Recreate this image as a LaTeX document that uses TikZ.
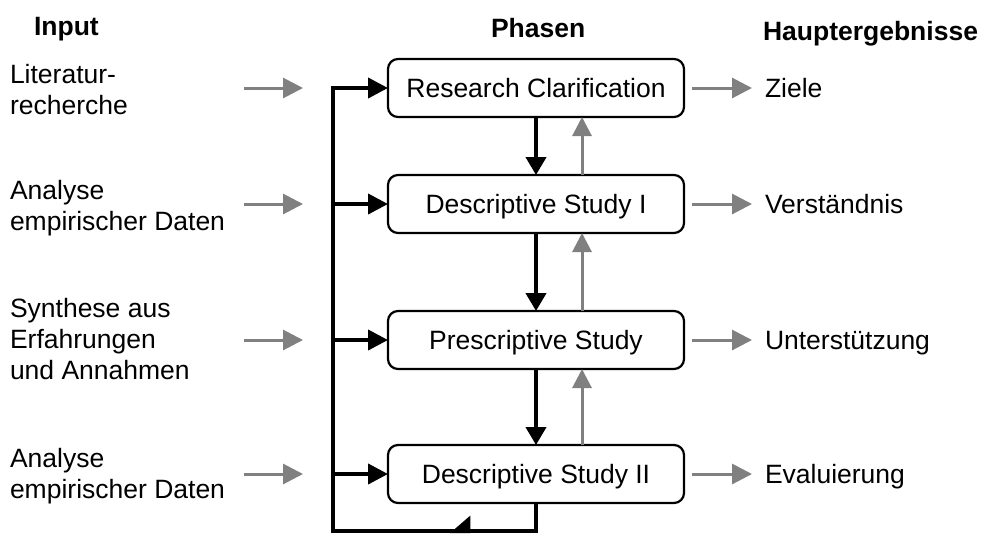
\documentclass[tikz,border=0pt]{standalone}
\usepackage{fontspec}
\setmainfont{Liberation Sans}
\usetikzlibrary{arrows.meta,decorations.markings}
\definecolor{flowgray}{RGB}{128,128,128}
% fixed height for the first line of a multi-line label
\newcommand{\firstline}{\rule{0pt}{22pt}}

\begin{document}
\begin{tikzpicture}[x=1pt,y=-1pt,
  every node/.style={inner sep=0pt, outer sep=0pt},
  bodyfont/.style={font=\fontsize{26.5}{31}\selectfont},
  head/.style={font=\fontsize{26.5}{31}\selectfont\bfseries, anchor=base west},
  phase/.style={draw, line width=2.2pt, rounded corners=10pt,
    minimum width=296pt, minimum height=58pt, bodyfont,
    text height=19pt, text depth=0pt},
  inputtext/.style={bodyfont, align=left, anchor=north west},
  resulttext/.style={bodyfont, anchor=west, text height=19pt, text depth=0pt},
  bus/.style={line width=4pt, black},
  bustip/.style={-{Triangle[length=20pt,width=20pt]}},
  downflow/.style={line width=4pt, black, -{Triangle[length=18pt,width=20pt]}},
  upflow/.style={line width=3pt, flowgray, -{Triangle[length=19pt,width=19pt]}},
  grayflow/.style={line width=3pt, flowgray, -{Triangle[length=20pt,width=20pt]}},
]
\useasboundingbox (0,0) rectangle (987,536);

% column headers
\node[head] (hIn)  at (34,35)  {Input};
\node[head] (hPh)  at (491,37) {Phasen};
\node[head] (hRes) at (763,40) {Hauptergebnisse};

% phases
\node[phase] (RC)  at (536,88)  {Research Clarification};
\node[phase] (DS1) at (536,204) {Descriptive Study I};
\node[phase] (PS)  at (536,340) {Prescriptive Study};
\node[phase] (DS2) at (536,474) {Descriptive Study II};

% inputs
\node[inputtext] (in1) at (10,61)  {\firstline Literatur-\\recherche};
\node[inputtext] (in2) at (10,177) {\firstline Analyse\\empirischer Daten};
\node[inputtext] (in3) at (10,295) {\firstline Synthese aus\\Erfahrungen\\und Annahmen};
\node[inputtext] (in4) at (10,445) {\firstline Analyse\\empirischer Daten};

% main results
\node[resulttext] (r1) at (765,88)  {Ziele};
\node[resulttext] (r2) at (765,204) {Verständnis};
\node[resulttext] (r3) at (765,340) {Unterstützung};
\node[resulttext] (r4) at (765,474) {Evaluierung};

% input arrows
\foreach \n/\y in {1/88,2/204,3/340,4/474}{
  \coordinate (ia\n) at (244,\y);
  \coordinate (ib\n) at (303,\y);
  \draw[grayflow] (ia\n) -- (ib\n);
}

% result arrows
\foreach \b/\r in {RC/r1,DS1/r2,PS/r3,DS2/r4}{
  \draw[grayflow] ([xshift=8pt]\b.east) -- ([xshift=-13pt]\r.west);
}

% forward and backward flow between phases
\foreach \a/\b in {RC/DS1,DS1/PS,PS/DS2}{
  \draw[downflow] (\a.south) -- (\b.north);
  \draw[upflow] ([xshift=46pt]\b.north) -- ([xshift=46pt]\a.south);
}

% iteration loop with feed-in branches
\coordinate (buscorner) at (333,531);
\draw[bus, bustip, postaction={decorate}, decoration={markings,
    mark=at position 114pt with {\arrow{Triangle[harpoon,swap,length=18pt,width=30pt]}}}]
  (DS2.south) |- (buscorner) |- (RC.west);
\foreach \b in {DS1,PS,DS2}{
  \draw[bus, bustip] (\b.west -| buscorner) -- (\b.west);
}
\end{tikzpicture}
\end{document}
